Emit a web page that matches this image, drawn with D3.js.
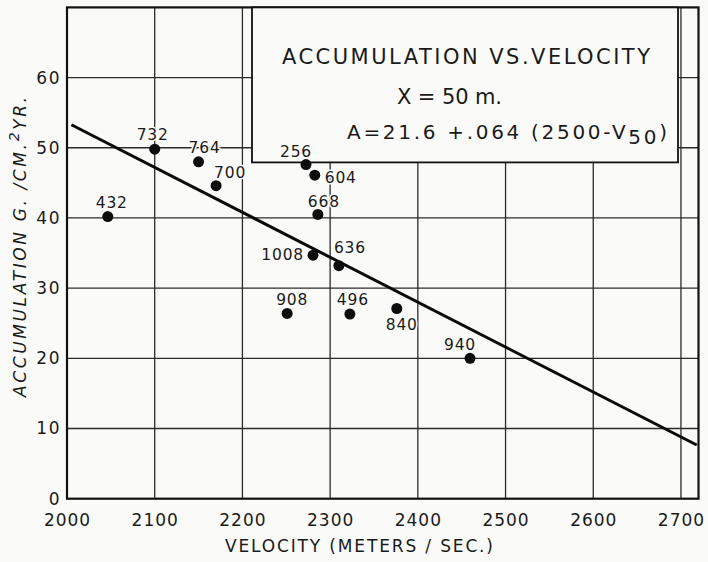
<!DOCTYPE html>
<html>
<head>
<meta charset="utf-8">
<script src="https://cdn.jsdelivr.net/npm/d3@7"></script>
<style>
  html, body { margin: 0; padding: 0; background: #fafaf8; }
  svg { display: block; }
  text { font-family: "DejaVu Sans", sans-serif; fill: #1a1a1a; }
</style>
</head>
<body>
<svg id="chart" width="708" height="562"></svg>
<script>
// Station numbers, surface velocity (m/s) and accumulation (g/cm²/yr)
const stations     = ["432", "732", "764", "700", "256", "604", "668", "1008", "636", "908", "496", "840", "940"];
const velocity     = [2046.5, 2100, 2150, 2170, 2272.5, 2282.5, 2286, 2280.5, 2310, 2251, 2322.5, 2376, 2459.5];
const accumulation = [40.2, 49.8, 48.0, 44.6, 47.6, 46.1, 40.5, 34.7, 33.2, 26.4, 26.3, 27.1, 20.0];

// Axis ticks
const xTicks = [2000, 2100, 2200, 2300, 2400, 2500, 2600, 2700];
const yTicks = [0, 10, 20, 30, 40, 50, 60];

// Fitted relation A = 21.6 + .064 (2500 - V50)
const fitIntercept = 21.6, fitSlope = 0.064, fitPivot = 2500;
const fitRange = [2005, 2718];

// Label placement around each station dot: [dx, dy, anchor]
const labelPlace = [
  [4, -9, "middle"], [-2, -9, "middle"], [6, -9, "middle"], [14, -8, "middle"],
  [-10, -8, "middle"], [10, 8, "start"], [6, -7, "middle"], [-9, 5, "end"],
  [11, -13, "middle"], [5, -8, "middle"], [3, -9, "middle"], [5, 22, "middle"],
  [-10, -8, "middle"]
];

const svg = d3.select("#chart");
const bg = "#fafaf8";

const x = d3.scaleLinear().domain([2000, 2720]).range([67, 698.5]);
const y = d3.scaleLinear().domain([0, 70]).range([498.7, 7.4]);
const [x0, x1] = x.range();
const [y0, y1] = y.range();

// Grid lines
const grid = svg.append("g").attr("stroke", "#2b2b2b").attr("stroke-width", 1.3);
grid.selectAll("line.v").data(xTicks.slice(1)).join("line")
  .attr("x1", d => x(d)).attr("x2", d => x(d))
  .attr("y1", y0).attr("y2", y1);
grid.selectAll("line.h").data(yTicks.slice(1)).join("line")
  .attr("x1", x0).attr("x2", x1)
  .attr("y1", d => y(d)).attr("y2", d => y(d));

// Axes (labels only, the frame is drawn separately)
const xAxis = svg.append("g").attr("transform", `translate(0,${y0})`)
  .call(d3.axisBottom(x).tickValues(xTicks).tickSize(0).tickPadding(15).tickFormat(d3.format("d")));
xAxis.select(".domain").remove();
xAxis.selectAll("text").attr("font-size", 17).attr("letter-spacing", 1)
  .attr("font-family", "DejaVu Sans").attr("fill", "#1a1a1a");

const yAxis = svg.append("g").attr("transform", `translate(${x0},0)`)
  .call(d3.axisLeft(y).tickValues(yTicks).tickSize(0).tickPadding(6));
yAxis.select(".domain").remove();
yAxis.selectAll("text").attr("font-size", 17).attr("letter-spacing", 1.5)
  .attr("font-family", "DejaVu Sans").attr("fill", "#1a1a1a");

// Plot frame
svg.append("rect")
  .attr("x", x0).attr("y", y1)
  .attr("width", x1 - x0).attr("height", y0 - y1)
  .attr("fill", "none").attr("stroke", "#111").attr("stroke-width", 2.2);

// Title box
const box = svg.append("g");
box.append("rect")
  .attr("x", 252).attr("y", y1).attr("width", 426).attr("height", 155)
  .attr("fill", bg).attr("stroke", "#111").attr("stroke-width", 1.8);
box.append("text").attr("x", 282).attr("y", 64)
  .attr("font-size", 21).attr("textLength", 368).attr("lengthAdjust", "spacing")
  .text("ACCUMULATION VS.VELOCITY");
box.append("text").attr("x", 397).attr("y", 104)
  .attr("font-size", 21).attr("textLength", 105).attr("lengthAdjust", "spacing")
  .text("X = 50 m.");
const eq = box.append("text").attr("x", 347).attr("y", 139)
  .attr("font-size", 20).attr("textLength", 320).attr("lengthAdjust", "spacing");
eq.append("tspan").text("A=21.6 +.064 (2500-V");
eq.append("tspan").attr("dy", 5).text("50");
eq.append("tspan").attr("dy", -5).text(")");

// Fitted line
const fit = v => fitIntercept + fitSlope * (fitPivot - v);
svg.append("path")
  .datum(fitRange)
  .attr("fill", "none").attr("stroke", "#0a0a0a").attr("stroke-width", 3)
  .attr("d", d3.line().x(d => x(d)).y(d => y(fit(d))));

// Station labels (with a halo that breaks the grid behind them)
const pts = stations.map((s, i) => ({ s, v: velocity[i], a: accumulation[i], p: labelPlace[i] }));
svg.append("g").selectAll("text").data(pts).join("text")
  .attr("x", d => x(d.v) + d.p[0])
  .attr("y", d => y(d.a) + d.p[1])
  .attr("text-anchor", d => d.p[2])
  .attr("font-size", 15.5).attr("letter-spacing", 0.8)
  .attr("stroke", bg).attr("stroke-width", 3).attr("paint-order", "stroke")
  .text(d => d.s);

// Station dots
svg.append("g").selectAll("circle").data(pts).join("circle")
  .attr("cx", d => x(d.v)).attr("cy", d => y(d.a))
  .attr("r", 5.5).attr("fill", "#0d0d0d");

// Axis titles
svg.append("text").attr("x", 225).attr("y", 552)
  .attr("font-size", 17).attr("textLength", 268).attr("lengthAdjust", "spacing")
  .text("VELOCITY (METERS / SEC.)");

const yt = svg.append("text")
  .attr("transform", "translate(26,397) rotate(-90)")
  .attr("font-size", 17).attr("font-style", "italic")
  .attr("textLength", 300).attr("lengthAdjust", "spacing");
yt.append("tspan").text("ACCUMULATION G. /CM.");
yt.append("tspan").attr("dy", -7).attr("font-size", 14).text("2");
yt.append("tspan").attr("dy", 7).text("YR.");
</script>
</body>
</html>
